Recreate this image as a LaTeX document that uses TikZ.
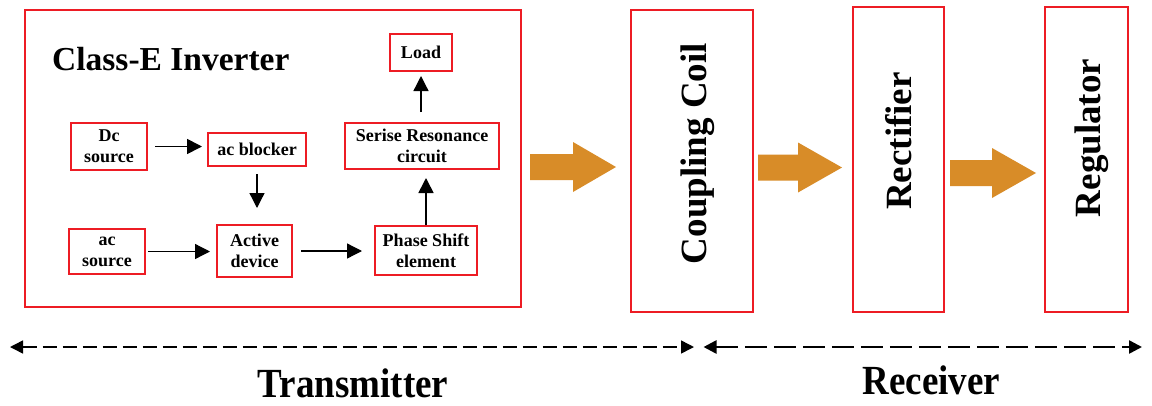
\documentclass[tikz,border=0pt]{standalone}
\usepackage{fontspec}
\usepackage{graphicx}
\setmainfont{Liberation Serif}
\usetikzlibrary{arrows.meta}
\definecolor{boxred}{HTML}{ED1C24}
\definecolor{flow}{HTML}{D88C28}

% block arrow: start x, head base x, tip x, middle y
\newcommand\flowarrow[4]{%
  \fill[flow] (#1,#4-13) -- (#2,#4-13) -- (#2,#4-25) -- (#3,#4)
    -- (#2,#4+25) -- (#2,#4+13) -- (#1,#4+13) -- cycle;}

\begin{document}
\begin{tikzpicture}[x=1pt,y=-1pt,
  panel/.style={draw=boxred,line width=2.7pt,inner sep=0pt},
  block/.style={draw=boxred,line width=2pt,inner sep=0pt,align=center,
    font=\fontsize{18}{21}\selectfont\bfseries},
  stage/.style={draw=boxred,line width=1.6pt,inner sep=0pt},
  vlabel/.style={rotate=90,anchor=base,inner sep=0pt,
    font=\fontsize{37}{40}\selectfont\bfseries},
  link/.style={-{Triangle[length=15pt,width=15pt]},line width=1.3pt},
  span/.style={{Triangle[length=13pt,width=13pt]}-{Triangle[length=13pt,width=13pt]}},
  caption/.style={anchor=base,inner sep=0pt,font=\fontsize{37}{40}\selectfont\bfseries},
]
\fill[white] (0,0) rectangle (1152,405);
\useasboundingbox (0,0) rectangle (1152,405);

% transmitter panel
\node[panel,minimum width=496pt,minimum height=297pt] (panel) at (273,158.5) {};
\node[anchor=base west,inner sep=0pt,font=\fontsize{33.5}{36}\selectfont\bfseries]
  (title) at (52,70) {Class-E Inverter};

\node[block,minimum width=76pt,minimum height=47pt] (dc) at (109,146.5) {Dc\\source};
\node[block,minimum width=98pt,minimum height=33pt] (acb) at (257,149.5) {ac blocker};
\node[block,minimum width=76pt,minimum height=45pt] (acsrc) at (107,251.5) {ac\\source};
\node[block,minimum width=75pt,minimum height=52pt] (active) at (254.5,251) {Active\\device};
\node[block,minimum width=102pt,minimum height=49pt] (phase) at (426,250.5) {Phase Shift\\element};
\node[block,minimum width=154pt,minimum height=46pt] (serise) at (422,146) {Serise Resonance\\circuit};
\node[block,minimum width=62pt,minimum height=37pt] (load) at (421,52.5) {Load};

\draw[link,line width=1.7pt,shorten <=7pt,shorten >=5pt] (dc.east) -- (dc.east -| acb.west);
\draw[link,shorten <=7pt,shorten >=16pt] (acb.south) -- (acb.south |- active.north);
\draw[link,shorten <=2pt,shorten >=6pt] (acsrc.east) -- (acsrc.east -| active.west);
\draw[link,shorten <=8pt,shorten >=12pt] (active.east) -- (active.east -| phase.west);
\draw[link,line width=1.7pt,shorten >=8pt] (phase.north) -- (phase.north |- serise.south);
\draw[link,shorten <=10pt,shorten >=4pt] (serise.north -| load.south) -- (load.south);

% power path stages
\node[stage,minimum width=122pt,minimum height=302pt] (coil) at (692,161) {};
\node[stage,minimum width=91pt,minimum height=305pt] (rect) at (898.5,159.5) {};
\node[stage,line width=2.4pt,minimum width=83pt,minimum height=305pt] (reg) at (1086.5,159.5) {};
\node[vlabel] (coiltext) at (706,153.5) {Coupling Coil};
\node[vlabel] (recttext) at (911,141) {Rectifier};
\node[vlabel] (regtext) at (1100.5,138) {Regulator};

\flowarrow{530}{573}{616}{167}
\flowarrow{758}{798}{842}{167.5}
\flowarrow{950}{992}{1036}{173}

% transmitter / receiver extents
\coordinate (txL) at (10,347);
\coordinate (txR) at (694,347);
\coordinate (rxL) at (703.5,347);
\coordinate (rxR) at (1142,347);
\draw[span,line width=1.5pt,dash pattern=on 14pt off 6pt] (txL) -- (txR);
\draw[span,line width=2.5pt,dash pattern=on 22pt off 7pt] (rxL) -- (rxR);
\node[caption] (txtext) at (353,397) {\scalebox{1}[1.12]{Transmitter}};
\node[caption] (rxtext) at (931.5,394) {\scalebox{1}[1.12]{Receiver}};
\end{tikzpicture}
\end{document}
